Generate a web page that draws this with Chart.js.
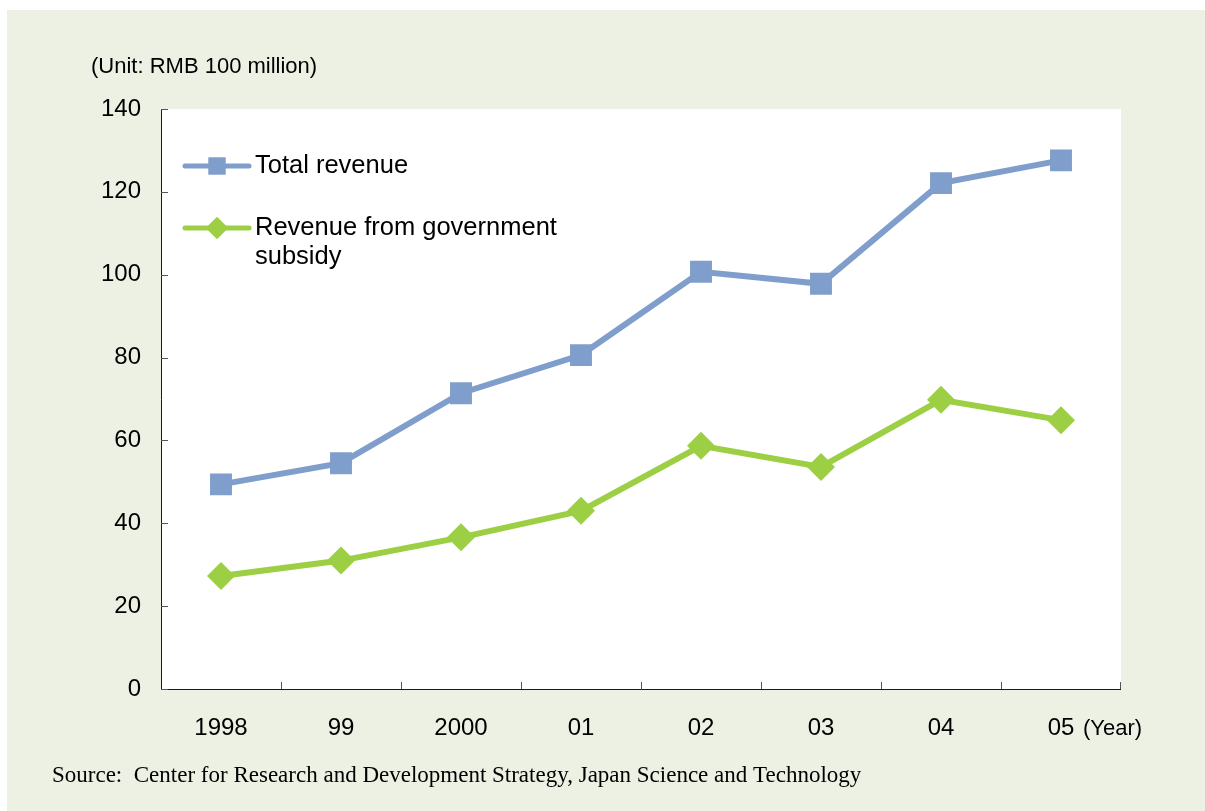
<!DOCTYPE html>
<html>
<head>
<meta charset="utf-8">
<title>Revenue</title>
<script src="https://cdn.jsdelivr.net/npm/chart.js@4.4.0/dist/chart.umd.min.js"></script>
<style>
  html, body { margin: 0; padding: 0; background: #ffffff; }
  #wrap { width: 1205px; height: 811px; }
</style>
</head>
<body>
<div id="wrap"><canvas id="revChart" width="1205" height="811"></canvas></div>
<script>
const years = ['1998', '99', '2000', '01', '02', '03', '04', '05'];
const totalRevenue = [49.4, 54.5, 71.4, 80.6, 100.7, 97.8, 122.1, 127.6];
const govSubsidy = [27.3, 31.0, 36.6, 43.0, 58.7, 53.6, 69.8, 64.9];
const yTicks = [0, 20, 40, 60, 80, 100, 120, 140];

const BLUE = '#7f9ecb';
const GREEN = '#9ccf43';
const PANEL = '#ecf1e4';
const FONT = 'Arial, "Liberation Sans", sans-serif';

// panel background + white plot area
const backdrop = {
  id: 'backdrop',
  beforeDraw(chart) {
    const { ctx, chartArea: a } = chart;
    ctx.save();
    ctx.fillStyle = PANEL;
    ctx.fillRect(7, 10, chart.width - 7, chart.height - 10);
    ctx.fillStyle = '#ffffff';
    ctx.fillRect(a.left, a.top, a.right - a.left, a.bottom - a.top);
    ctx.restore();
  }
};

// axis lines, inward tick marks, legend and extra labels
const decorations = {
  id: 'decorations',
  afterDatasetsDraw(chart) {
    const { ctx, chartArea: a, scales } = chart;
    const x = scales.x, y = scales.y;
    ctx.save();
    ctx.strokeStyle = '#1a1a1a';
    ctx.lineWidth = 1;
    ctx.beginPath();
    ctx.moveTo(a.left + 0.5, a.top);
    ctx.lineTo(a.left + 0.5, a.bottom + 0.5);
    ctx.lineTo(a.right, a.bottom + 0.5);
    ctx.stroke();

    ctx.strokeStyle = '#555555';
    ctx.beginPath();
    yTicks.forEach(v => {
      const py = Math.round(y.getPixelForValue(v)) + 0.5;
      ctx.moveTo(a.left, py);
      ctx.lineTo(a.left + 7, py);
    });
    for (let i = 1; i <= years.length; i++) {
      const px = Math.round((x.getPixelForValue(i - 1) + x.getPixelForValue(Math.min(i, years.length - 1))) / 2) + 0.5;
      const edge = i === years.length ? Math.round(a.right) - 0.5 : px;
      ctx.moveTo(edge, a.bottom);
      ctx.lineTo(edge, a.bottom - 7);
    }
    ctx.stroke();

    // legend
    const items = chart.data.datasets.map(ds => ({
      color: ds.borderColor, style: ds.pointStyle, lines: ds.legendLines
    }));
    const rows = [166, 228];
    items.forEach((it, i) => {
      const ly = rows[i];
      ctx.strokeStyle = it.color;
      ctx.lineWidth = 5;
      ctx.lineCap = 'round';
      ctx.beginPath();
      ctx.moveTo(185, ly);
      ctx.lineTo(249, ly);
      ctx.stroke();
      ctx.fillStyle = it.color;
      Chart.helpers.drawPoint(ctx, { pointStyle: it.style, radius: it.style === 'rectRot' ? 11 : 12, rotation: 0, borderWidth: 0 }, 217, ly);
      ctx.fill();
      ctx.fillStyle = '#000000';
      ctx.font = '25.5px ' + FONT;
      ctx.textBaseline = 'middle';
      ctx.textAlign = 'left';
      it.lines.forEach((t, k) => ctx.fillText(t, 255, ly + k * 29));
    });

    ctx.fillStyle = '#000000';
    ctx.font = '22px ' + FONT;
    ctx.textBaseline = 'middle';
    ctx.textAlign = 'left';
    ctx.fillText('(Unit: RMB 100 million)', 91, 67);
    ctx.fillText('(Year)', 1083, 729);

    ctx.font = '23px "Liberation Serif", "DejaVu Serif", serif';
    ctx.fillText('Source:  Center for Research and Development Strategy, Japan Science and Technology', 52, 776);
    ctx.restore();
  }
};

new Chart(document.getElementById('revChart'), {
  type: 'line',
  data: {
    labels: years,
    datasets: [
      {
        label: 'Total revenue',
        legendLines: ['Total revenue'],
        data: totalRevenue,
        borderColor: BLUE,
        backgroundColor: BLUE,
        borderWidth: 6,
        pointStyle: 'rect',
        pointRadius: 15.5,
        pointHoverRadius: 15.5,
        pointBorderWidth: 0
      },
      {
        label: 'Revenue from government subsidy',
        legendLines: ['Revenue from government', 'subsidy'],
        data: govSubsidy,
        borderColor: GREEN,
        backgroundColor: GREEN,
        borderWidth: 6,
        pointStyle: 'rectRot',
        pointRadius: 14,
        pointHoverRadius: 14,
        pointBorderWidth: 0
      }
    ]
  },
  options: {
    responsive: false,
    animation: false,
    layout: { padding: { left: 0, top: 109, right: 84, bottom: 0 } },
    plugins: {
      legend: { display: false },
      tooltip: { enabled: false }
    },
    scales: {
      x: {
        offset: true,
        grid: { display: false, drawTicks: false },
        border: { display: false },
        ticks: { color: '#000000', font: { family: FONT, size: 24 }, padding: 25, maxRotation: 0 },
        afterFit(s) { s.height = 122; }
      },
      y: {
        min: 0,
        max: 140,
        afterBuildTicks(s) { s.ticks = yTicks.map(v => ({ value: v })); },
        grid: { display: false, drawTicks: false },
        border: { display: false },
        ticks: { color: '#000000', font: { family: FONT, size: 24 }, padding: 20 },
        afterFit(s) { s.width = 161; }
      }
    }
  },
  plugins: [backdrop, decorations]
});
</script>
</body>
</html>
